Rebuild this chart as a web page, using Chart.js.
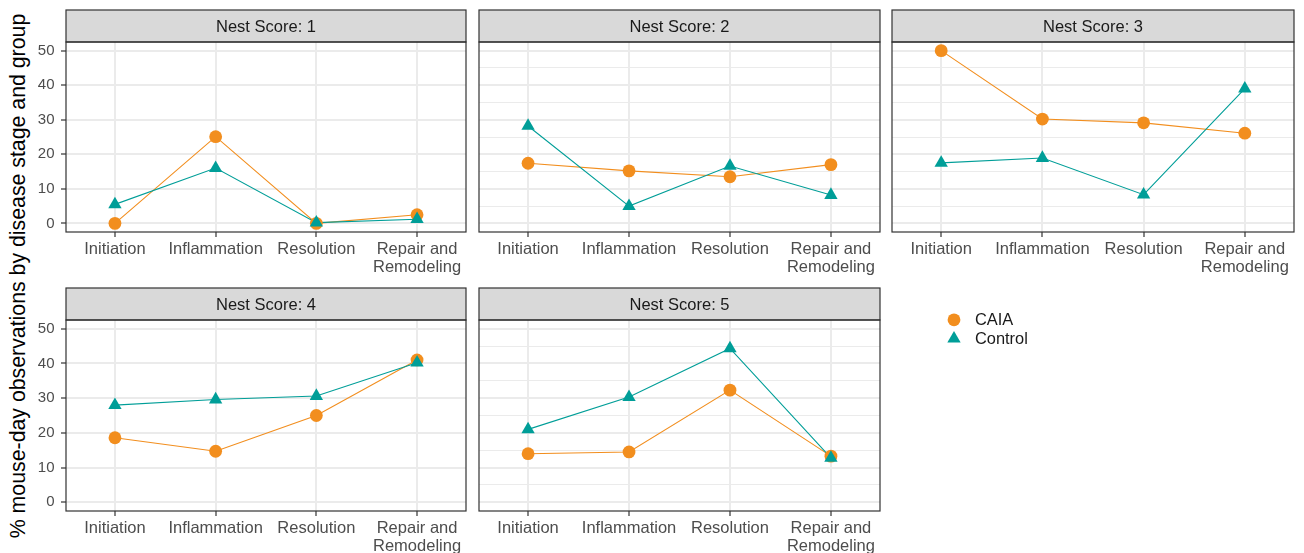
<!DOCTYPE html>
<html>
<head>
<meta charset="utf-8">
<script src="https://cdn.jsdelivr.net/npm/chart.js@4.4.0/dist/chart.umd.min.js"></script>
<style>
  html, body { margin: 0; padding: 0; background: #fff; }
  body { position: relative; width: 1304px; height: 553px; overflow: hidden; }
  canvas { position: absolute; }
  #ytitle {
    position: absolute; left: 19.4px; top: 275.5px; width: max-content;
    transform: translate(-50%, -50%) rotate(-90deg);
    white-space: nowrap; color: #000;
    font: 21.3px 'Liberation Sans', Arial, sans-serif; line-height: 21.3px;
  }
</style>
</head>
<body>
<div id="ytitle">% mouse-day observations by disease stage and group</div>
<script>
// Disease stages on the x axis (multi-line label for the last one)
const stages = ['Initiation', 'Inflammation', 'Resolution', ['Repair and', 'Remodeling']];
const stagePositions = [1, 2, 3, 4];
const yTickValues = [0, 5, 10, 15, 20, 25, 30, 35, 40, 45, 50];

// % of mouse-day observations per stage, one pair of series per nest score
const caiaNest1    = [0.0, 25.1, 0.0, 2.5];
const controlNest1 = [5.5, 16.0, 0.2, 1.2];
const caiaNest2    = [17.4, 15.2, 13.5, 17.0];
const controlNest2 = [28.2, 5.0, 16.6, 8.2];
const caiaNest3    = [50.0, 30.2, 29.1, 26.1];
const controlNest3 = [17.5, 18.9, 8.3, 39.0];
const caiaNest4    = [18.6, 14.7, 25.0, 41.0];
const controlNest4 = [28.0, 29.6, 30.6, 40.2];
const caiaNest5    = [14.0, 14.5, 32.3, 13.3];
const controlNest5 = [21.0, 30.3, 44.3, 12.8];

const facetTitles = ['Nest Score: 1', 'Nest Score: 2', 'Nest Score: 3', 'Nest Score: 4', 'Nest Score: 5'];
const caiaSeries = [caiaNest1, caiaNest2, caiaNest3, caiaNest4, caiaNest5];
const controlSeries = [controlNest1, controlNest2, controlNest3, controlNest4, controlNest5];
const groupNames = ['CAIA', 'Control'];

const ORANGE = '#F28E1E';
const TEAL = '#009E98';
const FONT = "'Liberation Sans', Arial, sans-serif";

// Facet grid geometry (page pixels)
const columns = [{ L: 66, R: 466 }, { L: 479, R: 880 }, { L: 892, R: 1294 }];
const rows = [{ T: 42, B: 232, xh: 43 }, { T: 320, B: 511, xh: 42 }];
const STRIP_H = 32;

function drawMarker(ctx, style, x, y, color) {
  ctx.fillStyle = color;
  ctx.beginPath();
  if (style === 'circle') {
    ctx.arc(x, y, 6.4, 0, Math.PI * 2);
  } else {
    const r = 7.7;
    for (let k = 0; k < 3; k++) {
      const a = k * 2 * Math.PI / 3;
      const px = x + Math.sin(a) * r, py = y - Math.cos(a) * r;
      if (k === 0) ctx.moveTo(px, py); else ctx.lineTo(px, py);
    }
    ctx.closePath();
  }
  ctx.fill();
}

// Strip header, panel border and (optionally) the group legend
const facetFrame = {
  id: 'facetFrame',
  afterDraw(chart, args, opts) {
    const { ctx, chartArea: a } = chart;
    const w = a.right - a.left, h = a.bottom - a.top;
    ctx.save();
    ctx.fillStyle = '#D9D9D9';
    ctx.fillRect(a.left, a.top - STRIP_H, w, STRIP_H);
    ctx.strokeStyle = '#333333';
    ctx.lineWidth = 1.2;
    ctx.strokeRect(a.left, a.top - STRIP_H, w, STRIP_H);
    ctx.strokeRect(a.left, a.top, w, h);
    ctx.fillStyle = '#1A1A1A';
    ctx.font = '16.5px ' + FONT;
    ctx.textAlign = 'center';
    ctx.textBaseline = 'alphabetic';
    ctx.fillText(opts.title, (a.left + a.right) / 2, a.top - STRIP_H / 2 + 5.9);

    if (opts.legend) {
      const { ox, oy, x, y, textX } = opts.legend;
      const items = [
        { label: groupNames[0], style: 'circle', color: ORANGE, cy: y[0] },
        { label: groupNames[1], style: 'triangle', color: TEAL, cy: y[1] }
      ];
      ctx.font = '16.4px ' + FONT;
      ctx.textAlign = 'left';
      ctx.textBaseline = 'middle';
      items.forEach(it => {
        drawMarker(ctx, it.style, x - ox, it.cy - oy, it.color);
        ctx.fillStyle = '#1A1A1A';
        ctx.fillText(it.label, textX - ox, it.cy - oy + 0.5);
      });
    }
    ctx.restore();
  }
};

function makePanel(index) {
  const col = columns[index % 3];
  const row = rows[Math.floor(index / 3)];
  const firstCol = index % 3 === 0;
  const yw = firstCol ? 66 : 0;
  const padL = firstCol ? 0 : 1;
  const withLegend = index === 4;
  const padR = withLegend ? 180 : 2;
  const cx = col.L - yw - padL;
  const cy = row.T - STRIP_H - 1;
  const cw = col.R - cx + padR;
  const ch = row.B - cy + row.xh;

  const canvas = document.createElement('canvas');
  canvas.width = cw; canvas.height = ch;
  canvas.style.left = cx + 'px';
  canvas.style.top = cy + 'px';
  canvas.style.width = cw + 'px';
  canvas.style.height = ch + 'px';
  document.body.appendChild(canvas);

  const toPoints = vals => vals.map((v, i) => ({ x: stagePositions[i], y: v }));
  const caia = toPoints(caiaSeries[index]);
  const control = toPoints(controlSeries[index]);

  new Chart(canvas, {
    type: 'line',
    data: {
      datasets: [
        { label: groupNames[0], data: caia, borderColor: ORANGE, borderWidth: 1.1, pointRadius: 0, order: 3 },
        { label: groupNames[1], data: control, borderColor: TEAL, borderWidth: 1.1, pointRadius: 0, order: 2 },
        { label: groupNames[0], data: caia, showLine: false, pointStyle: 'circle', pointRadius: 6.4,
          pointBackgroundColor: ORANGE, pointBorderWidth: 0, order: 1 },
        { label: groupNames[1], data: control, showLine: false, pointStyle: 'triangle', pointRadius: 7.7,
          pointBackgroundColor: TEAL, pointBorderWidth: 0, order: 0 }
      ]
    },
    options: {
      responsive: false,
      animation: false,
      events: [],
      layout: { autoPadding: false, padding: { top: STRIP_H + 1, left: padL, right: padR, bottom: 0 } },
      plugins: {
        legend: { display: false },
        tooltip: { enabled: false },
        facetFrame: {
          title: facetTitles[index],
          legend: withLegend ? { ox: cx, oy: cy, x: 954, y: [319.8, 338.6], textX: 975 } : null
        }
      },
      scales: {
        x: {
          type: 'linear',
          min: 0.514, max: 4.486,
          afterBuildTicks: s => { s.ticks = stagePositions.map(v => ({ value: v })); },
          afterFit: s => {
            s.height = row.xh;
            // tick labels sit inside the panel width, so no side margins are needed
            s.paddingLeft = 0;
            s.paddingRight = 0;
          },
          border: { display: false },
          grid: { color: '#EBEBEB', lineWidth: 2, tickColor: '#333333', tickWidth: 1.2, tickLength: 5 },
          ticks: {
            callback: v => stages[v - 1],
            color: '#4D4D4D',
            font: { family: FONT, size: 16.5, lineHeight: 1.1 },
            maxRotation: 0, minRotation: 0, autoSkip: false, padding: 3
          }
        },
        y: {
          type: 'linear',
          min: -2.5, max: 52.5,
          afterBuildTicks: s => { s.ticks = yTickValues.map(v => ({ value: v })); },
          afterFit: s => { s.width = yw; },
          border: { display: false },
          grid: {
            color: '#EBEBEB',
            lineWidth: c => (c.tick && c.tick.value % 10 === 0) ? 2 : 1,
            drawTicks: firstCol,
            tickLength: 5,
            tickWidth: 1.2,
            tickColor: c => (c.tick && c.tick.value % 10 === 0) ? '#333333' : 'rgba(0,0,0,0)'
          },
          ticks: {
            display: firstCol,
            callback: v => (v % 10 === 0 ? String(v) : ''),
            color: '#4D4D4D',
            font: { family: FONT, size: 15 },
            padding: 6.5
          }
        }
      }
    },
    plugins: [facetFrame]
  });
}

for (let i = 0; i < facetTitles.length; i++) makePanel(i);
</script>
</body>
</html>
